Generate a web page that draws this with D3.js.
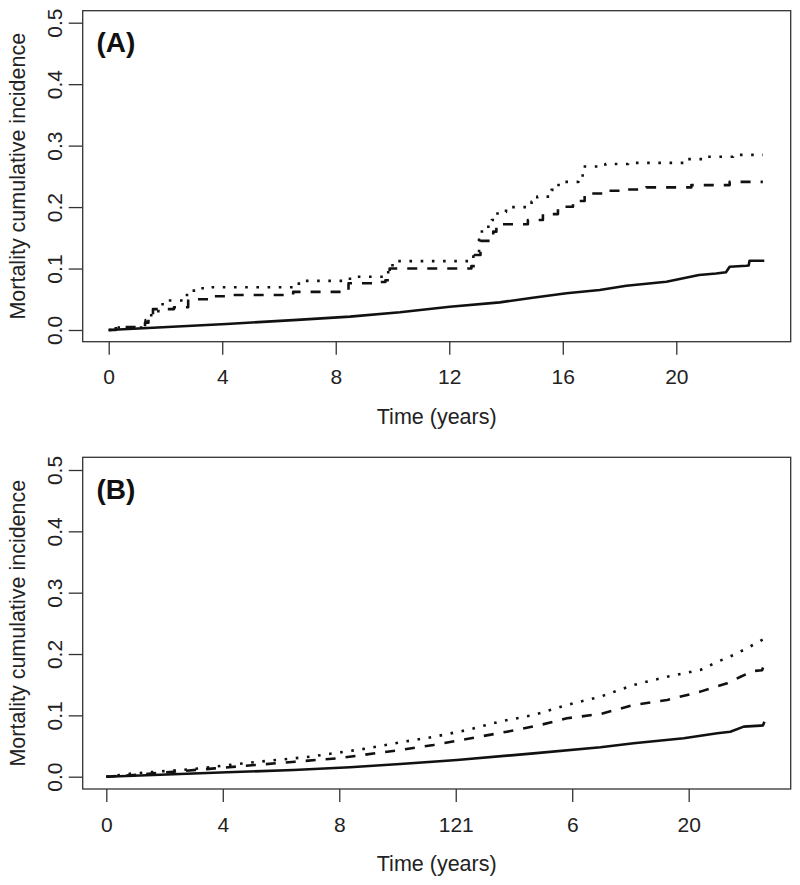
<!DOCTYPE html>
<html><head><meta charset="utf-8">
<script src="https://cdn.jsdelivr.net/npm/d3@7"></script>
<style>body{margin:0;background:#fff}svg{display:block}</style>
</head><body>
<svg id="c" width="800" height="885"></svg>
<script>
// ---------- data ----------
const xTicks = [0, 4, 8, 12, 16, 20];
const xTickLabelsA = ["0", "4", "8", "12", "16", "20"];
const xTickLabelsB = ["0", "4", "8", "121", "6", "20"];
const yTicks = [0, 0.1, 0.2, 0.3, 0.4, 0.5];
const panelLabels = ["(A)", "(B)"];
const xTitle = "Time (years)";
const yTitle = "Mortality cumulative incidence";

// Panel A
const aSolid = [[0,0],[4.15,0.0098],[6.5,0.016],[8.5,0.0217],[10.26,0.0288],[12.02,0.0379],[13.78,0.045],[14.94,0.0525],[16.13,0.0597],[17.3,0.065],[18.24,0.072],[19.65,0.0785],[20.8,0.0894],[21.4,0.092],[21.75,0.094],[21.88,0.103],[22.46,0.1045],[22.55,0.105],[22.58,0.1127],[23.1,0.1127]];
const aDashed = [[0,0],[0.25,0.005],[1.28,0.012],[1.4,0.018],[1.56,0.034],[2.3,0.037],[2.8,0.050],[3.5,0.055],[4.3,0.057],[6.5,0.062],[8.45,0.076],[9.4,0.078],[9.75,0.081],[9.9,0.1],[12.78,0.104],[12.9,0.122],[13.1,0.145],[13.55,0.160],[13.66,0.172],[14.77,0.179],[15.3,0.1886],[15.83,0.2005],[16.36,0.2098],[16.77,0.222],[17.47,0.2265],[18.24,0.2287],[18.94,0.232],[20.53,0.2358],[21.88,0.241],[23.05,0.241]];
const aDotted = [[0,0],[0.3,0.004],[1.3,0.016],[1.4,0.024],[1.75,0.042],[2.05,0.048],[2.65,0.057],[2.9,0.064],[3.2,0.068],[3.6,0.0695],[6.7,0.08],[8.5,0.0867],[9.75,0.094],[10.0,0.108],[10.2,0.112],[12.85,0.122],[13.05,0.15],[13.15,0.168],[13.5,0.179],[13.7,0.192],[14.0,0.2],[14.9,0.209],[15.1,0.217],[15.6,0.228],[15.8,0.236],[15.9,0.241],[16.55,0.249],[16.7,0.266],[17.5,0.27],[18.3,0.272],[20.3,0.278],[21,0.282],[22,0.285],[23.05,0.285]];

// Panel B
const bSolid = [[0,0],[4.14,0.0072],[6.43,0.011],[8.37,0.0153],[10.09,0.0207],[12.04,0.0272],[14.67,0.038],[16.97,0.048],[18.11,0.0545],[19.83,0.0626],[20.98,0.0707],[21.43,0.0734],[21.89,0.0816],[22.46,0.0832],[22.55,0.0835],[22.6,0.0897]];
const bDashed = [[0,0],[0.93,0.0028],[2.3,0.008],[3.73,0.0136],[5.1,0.019],[6.48,0.0245],[7.97,0.03],[9.35,0.039],[10.09,0.0435],[11.24,0.0517],[12.38,0.0615],[13.76,0.0734],[14.9,0.0843],[15.82,0.0952],[16.97,0.1023],[18.11,0.117],[19.26,0.125],[20.4,0.1387],[21.32,0.1523],[21.78,0.163],[22.23,0.1724],[22.52,0.1735],[22.64,0.19]];
const bDotted = [[0,0],[0.93,0.0054],[2.99,0.0125],[4.94,0.023],[7.0,0.0326],[8.95,0.046],[10.09,0.056],[11.24,0.065],[12.38,0.076],[13.5,0.0897],[14.67,0.1006],[15.82,0.117],[16.97,0.1305],[18.11,0.1496],[19.26,0.163],[20.4,0.174],[21.0,0.1876],[21.55,0.1985],[22.1,0.212],[22.63,0.2258]];

// ---------- drawing ----------
const svg = d3.select("#c");
const FONT = "'Liberation Sans', Arial, Helvetica, sans-serif";
const INK = "#111";

const panels = [
  {box:{x:82.7, y:10.7, w:708, h:331}, xr:[108.7, 676.3], yr:[330, 22.7],
   labels:xTickLabelsA, series:[aSolid, aDashed, aDotted], step:[false, true, true], tag:panelLabels[0]},
  {box:{x:82.7, y:457.3, w:708, h:331.7}, xr:[106.3, 688.7], yr:[776.7, 470],
   labels:xTickLabelsB, series:[bSolid, bDashed, bDotted], step:[false, false, false], tag:panelLabels[1]}
];
const dashes = [null, "10,10", "2.6,8.6"];

panels.forEach(p => {
  const g = svg.append("g");
  const x = d3.scaleLinear().domain([0, 20]).range(p.xr);
  const y = d3.scaleLinear().domain([0, 0.5]).range(p.yr);
  const bottom = p.box.y + p.box.h;
  const left = p.box.x;

  // lines
  p.series.forEach((s, i) => {
    const line = d3.line().x(d => x(d[0])).y(d => y(d[1]))
      .curve(p.step[i] ? d3.curveStepAfter : d3.curveLinear);
    g.append("path").datum(s).attr("d", line)
      .attr("fill", "none").attr("stroke", INK).attr("stroke-width", 2.6)
      .attr("stroke-linejoin", "round")
      .attr("stroke-dasharray", dashes[i]);
  });

  // box
  g.append("rect").attr("x", p.box.x).attr("y", p.box.y)
    .attr("width", p.box.w).attr("height", p.box.h)
    .attr("fill", "none").attr("stroke", "#333").attr("stroke-width", 1.3);

  // x axis
  const xa = g.append("g").attr("transform", `translate(0,${bottom})`)
    .call(d3.axisBottom(x).tickValues(xTicks).tickSize(13)
      .tickFormat((d, i) => p.labels[i]));
  xa.select(".domain").remove();
  xa.selectAll(".tick line").attr("stroke", "#333").attr("stroke-width", 1.3);
  xa.selectAll(".tick text").attr("y", 42.5).attr("dy", 0)
    .attr("font-family", FONT).attr("font-size", 21).attr("fill", "#222");

  // y axis
  const ya = g.append("g").attr("transform", `translate(${left},0)`)
    .call(d3.axisLeft(y).tickValues(yTicks).tickSize(14).tickFormat(d3.format(".1f")));
  ya.select(".domain").remove();
  ya.selectAll(".tick line").attr("stroke", "#333").attr("stroke-width", 1.3);
  ya.selectAll(".tick text").attr("x", 0).attr("y", -21).attr("dy", 0)
    .attr("transform", "rotate(-90)").attr("text-anchor", "middle")
    .attr("font-family", FONT).attr("font-size", 21).attr("fill", "#222");

  // titles
  g.append("text").attr("x", p.box.x + p.box.w / 2).attr("y", bottom + 82)
    .attr("text-anchor", "middle").attr("font-family", FONT).attr("font-size", 21.5)
    .attr("fill", "#222").text(xTitle);
  g.append("text")
    .attr("transform", `translate(25,${p.box.y + p.box.h / 2}) rotate(-90)`)
    .attr("text-anchor", "middle").attr("font-family", FONT).attr("font-size", 21.5)
    .attr("fill", "#222").text(yTitle);

  // panel tag
  g.append("text").attr("x", 96.5).attr("y", p.box.y + 41.5)
    .attr("font-family", FONT).attr("font-size", 28).attr("font-weight", "bold")
    .attr("fill", "#111").text(p.tag);
});
</script>
</body></html>
